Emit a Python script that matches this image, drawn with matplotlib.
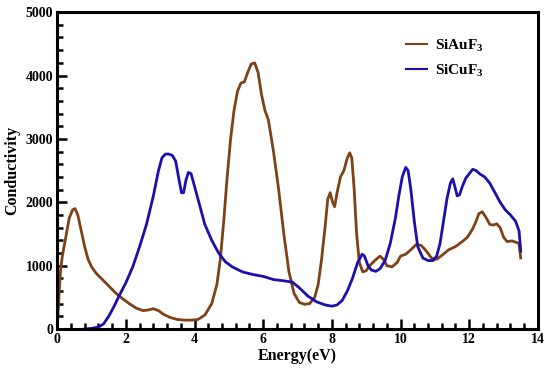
import matplotlib
matplotlib.use('Agg')
import matplotlib.pyplot as plt
from matplotlib.ticker import MultipleLocator

# SiAuF3 conductivity
au_energy = [0.0, 0.05, 0.1, 0.15, 0.25, 0.35, 0.45, 0.52, 0.6, 0.7, 0.8, 0.9, 1.0, 1.15, 1.3,
             1.5, 1.7, 1.9, 2.1, 2.3, 2.5, 2.65, 2.8, 2.95, 3.1, 3.3, 3.5, 3.7, 3.9, 4.1,
             4.3, 4.5, 4.65, 4.75, 4.85, 4.95, 5.05, 5.15, 5.25, 5.35, 5.45, 5.55, 5.65,
             5.75, 5.85, 5.95, 6.05, 6.15, 6.3, 6.45, 6.6, 6.75, 6.9, 7.05, 7.2, 7.35,
             7.5, 7.6, 7.7, 7.8, 7.88, 7.95, 8.02, 8.08, 8.15, 8.25, 8.35, 8.45, 8.52,
             8.58, 8.65, 8.72, 8.8, 8.9, 9.0, 9.1, 9.25, 9.4, 9.5, 9.6, 9.75, 9.9, 10.0,
             10.15, 10.3, 10.45, 10.6, 10.75, 10.9, 11.05, 11.2, 11.4, 11.6, 11.8, 11.95,
             12.1, 12.2, 12.28, 12.38, 12.5, 12.6, 12.7, 12.8, 12.9, 13.0, 13.1, 13.25,
             13.4, 13.45, 13.5]
au_sigma = [0, 500, 950, 1150, 1450, 1750, 1880, 1900, 1800, 1550, 1300, 1100, 980, 870, 790,
            680, 570, 480, 400, 330, 290, 300, 320, 290, 230, 180, 150, 140, 140, 150,
            220, 400, 700, 1100, 1700, 2400, 3000, 3450, 3750, 3880, 3900, 4050, 4180,
            4200, 4050, 3700, 3450, 3300, 2800, 2200, 1500, 900, 560, 420, 390, 400,
            500, 700, 1100, 1600, 2050, 2150, 2000, 1930, 2150, 2400, 2500, 2700, 2780,
            2700, 2200, 1500, 1050, 900, 920, 1000, 1080, 1150, 1100, 1000, 980, 1050, 1150,
            1180, 1250, 1330, 1320, 1230, 1120, 1100, 1160, 1250, 1300, 1380, 1450,
            1580, 1700, 1820, 1850, 1750, 1650, 1640, 1660, 1600, 1450, 1380, 1390,
            1360, 1350, 1120]

# SiCuF3 conductivity
cu_energy = [0.8, 1.0, 1.2, 1.35, 1.5, 1.65, 1.8, 2.0, 2.2, 2.4, 2.6, 2.8, 2.95, 3.05, 3.15,
             3.25, 3.35, 3.45, 3.55, 3.62, 3.68, 3.75, 3.82, 3.9, 4.0, 4.15, 4.3, 4.5,
             4.7, 4.9, 5.1, 5.4, 5.7, 6.0, 6.3, 6.6, 6.85, 7.05, 7.3, 7.55, 7.8, 8.0,
             8.15, 8.3, 8.45, 8.6, 8.75, 8.88, 8.95, 9.05, 9.15, 9.28, 9.4, 9.55, 9.7,
             9.85, 9.95, 10.05, 10.15, 10.22, 10.3, 10.4, 10.5, 10.65, 10.8, 10.95, 11.05,
             11.15, 11.25, 11.35, 11.45, 11.52, 11.58, 11.65, 11.72, 11.8, 11.9, 12.0,
             12.1, 12.2, 12.3, 12.45, 12.6, 12.75, 12.9, 13.05, 13.2, 13.35, 13.45, 13.5]
cu_sigma = [0, 10, 30, 80, 200, 350, 520, 730, 980, 1300, 1650, 2100, 2500, 2700, 2760,
            2760, 2740, 2650, 2350, 2150, 2150, 2350, 2470, 2450, 2250, 1950, 1650, 1400,
            1200, 1060, 980, 900, 860, 830, 780, 760, 740, 650, 520, 430, 380, 360,
            380, 450, 600, 800, 1050, 1180, 1150, 1000, 930, 910, 950, 1080, 1350,
            1750, 2100, 2400, 2550, 2500, 2200, 1700, 1300, 1120, 1080, 1080, 1150,
            1350, 1700, 2050, 2300, 2370, 2250, 2100, 2120, 2250, 2380, 2450, 2520,
            2500, 2450, 2400, 2300, 2150, 2000, 1880, 1800, 1700, 1550, 1230]

serif = ['Liberation Serif', 'DejaVu Serif']
plt.rcParams['font.family'] = serif
plt.rcParams['font.weight'] = 'bold'
plt.rcParams['mathtext.fontset'] = 'custom'
plt.rcParams['mathtext.rm'] = 'Liberation Serif:bold'
plt.rcParams['mathtext.bf'] = 'Liberation Serif:bold'

fig = plt.figure(figsize=(5.5, 3.68), dpi=100)
ax = fig.add_axes([0.104, 0.106, 0.874, 0.861])

ax.plot(au_energy, au_sigma, color='#7d4216', lw=2, label='SiAuF$_\\mathbf{3}$')
ax.plot(cu_energy, cu_sigma, color='#1c0fae', lw=2, label='SiCuF$_\\mathbf{3}$')

ax.set_xlim(0, 14)
ax.set_ylim(0, 5000)
ax.xaxis.set_major_locator(MultipleLocator(2))
ax.xaxis.set_minor_locator(MultipleLocator(0.4))
ax.yaxis.set_major_locator(MultipleLocator(1000))
ax.yaxis.set_minor_locator(MultipleLocator(200))
ax.tick_params(which='both', direction='in', top=False, right=False, width=1.8, labelsize=10, pad=3)
ax.tick_params(which='major', length=7)
ax.tick_params(which='minor', length=4)
for s in ax.spines.values():
    s.set_linewidth(2.2)

ax.set_xlabel('Energy(eV)', fontsize=11.5, fontweight='bold', labelpad=1)
ax.set_ylabel('Conductivity', fontsize=11.5, fontweight='bold', labelpad=4)

leg = ax.legend(loc='upper right', bbox_to_anchor=(0.915, 0.965), frameon=False,
                fontsize=11, handlelength=1.4, handletextpad=0.5, labelspacing=0.55)
for line in leg.get_lines():
    line.set_linewidth(1.5)

fig.savefig('out.png', dpi=100)
